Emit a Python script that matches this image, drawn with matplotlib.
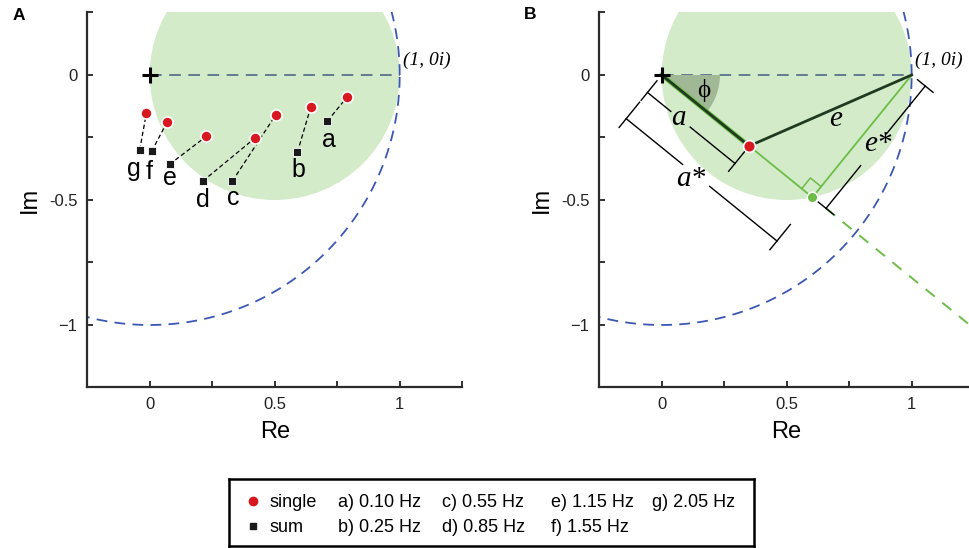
import numpy as np
import matplotlib.pyplot as plt
from matplotlib.patches import Circle, Wedge

# frequency responses, one entry per stimulus frequency
labels = ["a", "b", "c", "d", "e", "f", "g"]
freqs_hz = [0.10, 0.25, 0.55, 0.85, 1.15, 1.55, 2.05]
single_re = [0.789, 0.644, 0.504, 0.420, 0.227, 0.069, -0.013]
single_im = [-0.089, -0.129, -0.160, -0.253, -0.245, -0.189, -0.151]
sum_re = [0.711, 0.591, 0.331, 0.213, 0.080, 0.008, -0.040]
sum_im = [-0.184, -0.309, -0.424, -0.424, -0.357, -0.305, -0.300]

# example response used for the geometric construction in panel B
example_pt = [0.35, -0.284]

RED = "#d7191f"
LGREEN = "#6cbd47"
DGREEN = "#1f3a1f"
FILL = "#d3ebc9"
BLUE = "#3b58b4"
GRAYBLUE = "#4f6689"
SANS = "Liberation Sans"
SERIF = ["Liberation Serif", "DejaVu Serif"]

plt.rcParams["font.family"] = SANS


def base_axes(ax):
    """Unit circle, gain-1 circle and the common axis styling."""
    ax.add_patch(Circle((0.5, 0), 0.5, fc=FILL, ec="none", zorder=0))
    t = np.linspace(0, 2 * np.pi, 721)
    ax.plot(np.cos(t), np.sin(t), color=BLUE, lw=1.3, dashes=(6, 4), zorder=1)
    ax.plot([0, 1], [0, 0], color=GRAYBLUE, lw=1.2, dashes=(7, 4.5), zorder=1)
    ax.plot(0, 0, marker="+", ms=12, mew=2.2, color="k", zorder=6)
    ax.text(1.012, 0.06, "(1, 0i)", family=SERIF, style="italic",
            fontsize=14, ha="left", va="center", clip_on=False)

    ax.set_xlim(-0.25, 1.25)
    ax.set_ylim(-1.25, 0.25)
    ax.set_xticks(np.arange(-0.25, 1.26, 0.25))
    ax.set_xticklabels(["", "0", "", "0.5", "", "1", ""])
    ax.set_yticks(np.arange(-1.25, 0.26, 0.25))
    ax.set_yticklabels(["", "\u22121", "", "-0.5", "", "0", ""])
    ax.tick_params(direction="in", length=4, width=1.3, pad=7,
                   labelsize=12, colors="#222222")
    for side in ("top", "right"):
        ax.spines[side].set_visible(False)
    for side in ("left", "bottom"):
        ax.spines[side].set_linewidth(1.6)
        ax.spines[side].set_color("#2b2b2b")
    ax.set_xlabel("Re", fontsize=17, labelpad=6)
    ax.set_ylabel("Im", fontsize=17, labelpad=6)


def bracket(ax, p0, p1, side, off, t0, t1, gap):
    """Dimension bracket parallel to p0-p1, with a gap for its label."""
    p0, p1, side = np.asarray(p0), np.asarray(p1), np.asarray(side)
    L = np.linalg.norm(p1 - p0)
    d = (p1 - p0) / L
    for p in (p0, p1):
        a, b = p + t0 * side, p + t1 * side
        ax.plot([a[0], b[0]], [a[1], b[1]], color="k", lw=1.0, zorder=3)
    for s0, s1 in [(0, gap[0]), (gap[1], L)]:
        a = p0 + s0 * d + off * side
        b = p0 + s1 * d + off * side
        ax.plot([a[0], b[0]], [a[1], b[1]], color="k", lw=1.0, zorder=3)


fig = plt.figure(figsize=(9.7, 5.48), dpi=100)
axA = fig.add_axes([0.0899, 0.2929, 0.3866, 0.6843])
axB = fig.add_axes([0.6177, 0.2929, 0.3866, 0.6843])

# --- Panel A: single vs summed responses ---
base_axes(axA)
for i in range(len(labels)):
    axA.plot([sum_re[i], single_re[i]], [sum_im[i], single_im[i]],
             color="k", lw=0.9, dashes=(3.5, 2.2), zorder=3)
axA.plot(sum_re, sum_im, "s", ms=5.5, color="#1a1a1a", mec="white",
         mew=0.6, zorder=4)
axA.plot(single_re, single_im, "o", ms=8, color=RED, mec="white",
         mew=1.2, zorder=5)

label_offsets = {"a": (1.2, -18.5), "b": (0.4, -18), "c": (0.4, -17.5),
                 "d": (-0.4, -19), "e": (0, -15), "f": (-1.5, -20),
                 "g": (-4, -19)}
for lab, x, y in zip(labels, sum_re, sum_im):
    axA.annotate(lab, (x, y), xytext=label_offsets[lab],
                 textcoords="offset points", ha="center", va="baseline",
                 fontsize=18)

# --- Panel B: geometric construction ---
base_axes(axB)
R = np.array(example_pt)
phi = np.arctan2(R[1], R[0])
u = np.array([np.cos(phi), np.sin(phi)])
up = np.array([-u[1], u[0]])          # perpendicular, up-right
down_left = -up
P = np.array([1.0, 0.0])
G = u[0] * u                         # foot of perpendicular from (1, 0)

axB.add_patch(Wedge((0, 0), 0.233, np.degrees(phi), 0, fc="#a0b895",
                    ec="none", zorder=1))
axB.text(0.18 * np.cos(phi / 2), 0.18 * np.sin(phi / 2), "\u03d5",
         family=SERIF, fontsize=18, ha="center", va="center", zorder=6)

ext0, ext1 = G + 0.07 * u, G + 1.2 * u
axB.plot([ext0[0], ext1[0]], [ext0[1], ext1[1]], color=LGREEN, lw=1.4,
         dashes=(6, 5), zorder=2)
axB.plot([0, R[0]], [0, R[1]], color=LGREEN, lw=3.4, zorder=2)
axB.plot([0, G[0]], [0, G[1]], color=LGREEN, lw=1.3, zorder=2)
axB.plot([G[0], P[0]], [G[1], P[1]], color=LGREEN, lw=1.3, zorder=2)
axB.plot([0, R[0], P[0]], [0, R[1], P[1]], color=DGREEN, lw=2.0, zorder=3)

s = 0.055
corner = np.array([G - s * u, G - s * u + s * up, G + s * up])
axB.plot(corner[:, 0], corner[:, 1], color=LGREEN, lw=1.1, zorder=2)

axB.plot(*R, "o", ms=8.5, color=RED, mec="white", mew=1.2, zorder=5)
axB.plot(*G, "o", ms=7.5, color=LGREEN, mec="white", mew=1.0, zorder=5)

O = np.zeros(2)
bracket(axB, O, R, down_left, 0.09, 0.03, 0.13, (0.12, 0.22))
bracket(axB, O, G, down_left, 0.225, 0.14, 0.27, (0.29, 0.43))
bracket(axB, G, P, u, 0.07, 0.03, 0.11, (0.22, 0.385))

lab_kw = dict(family=SERIF, style="italic", fontsize=21, ha="center",
              va="center", zorder=6)
pa = 0.17 * u + 0.10 * down_left
axB.text(pa[0], pa[1] + 0.012, "a", **lab_kw)
pas = 0.36 * u + 0.26 * down_left
axB.text(pas[0], pas[1] + 0.012, "a*", **lab_kw)
pes = G + 0.32 * up + 0.075 * u
axB.text(pes[0], pes[1] + 0.012, "e*", **lab_kw)
dRP = (P - R) / np.linalg.norm(P - R)
pe = (R + P) / 2 + 0.05 * np.array([dRP[1], -dRP[0]])
axB.text(pe[0], pe[1] + 0.012, "e", **lab_kw)

fig.text(12.5 / 970, 1 - 8 / 548, "A", fontsize=12.5, weight="bold",
         ha="left", va="top")
fig.text(524 / 970, 1 - 7 / 548, "B", fontsize=12.5, weight="bold",
         ha="left", va="top")

# --- Legend box, laid out in pixel units ---
lax = fig.add_axes([229 / 970, 2 / 548, 525 / 970, 67 / 548])
lax.set_xlim(229, 754)
lax.set_ylim(546, 479)
lax.set_xticks([])
lax.set_yticks([])
for sp in lax.spines.values():
    sp.set_linewidth(1.8)
    sp.set_color("k")
row_y = [506.5, 531.5]
col_x = [338, 442, 551, 652]
lax.plot(253, row_y[0] - 6, "o", ms=6, color=RED)
lax.plot(253, row_y[1] - 5.5, "s", ms=4.5, color="#1a1a1a")
lax.text(270, row_y[0], "single", fontsize=13, va="baseline")
lax.text(270, row_y[1], "sum", fontsize=13, va="baseline")
for i, (lab, f) in enumerate(zip(labels, freqs_hz)):
    lax.text(col_x[i // 2], row_y[i % 2], f"{lab}) {f:.2f} Hz",
             fontsize=13, va="baseline")

fig.savefig("out.png", dpi=100)
